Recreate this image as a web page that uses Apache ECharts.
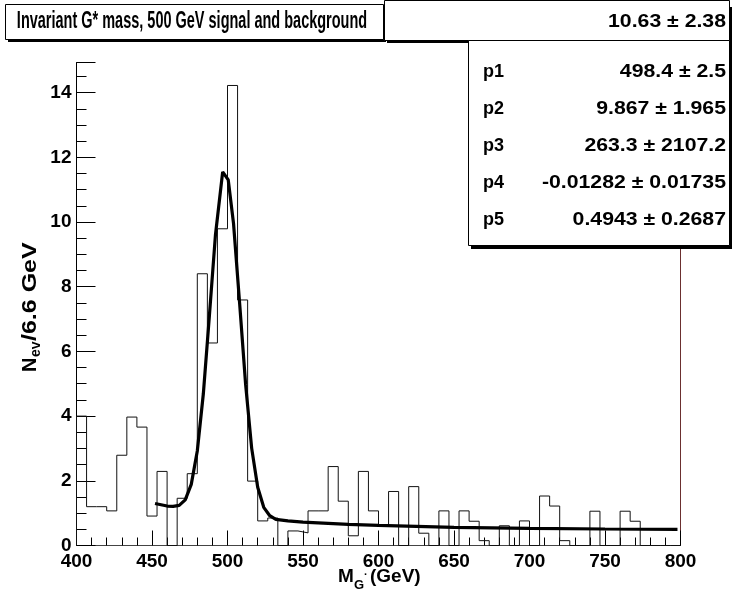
<!DOCTYPE html>
<html><head><meta charset="utf-8">
<script src="https://cdn.jsdelivr.net/npm/echarts@6/dist/echarts.min.js"></script>
<style>html,body{margin:0;padding:0;background:#fff}#c{width:732px;height:601px}</style>
</head><body><div id="c"></div>
<script>
// ---- data ----
const binLow = 400;
const binWidth = 400 / 60;
const counts = [
  4.0, 1.2, 1.2, 1.07, 2.79, 3.97, 3.66, 0.91, 2.29, 0,
  1.46, 2.22, 8.40, 6.26, 9.79, 14.22, 7.59, 1.99, 0.76, 0.85,
  0, 0.45, 0.39, 1.07, 1.07, 2.44, 1.37, 0.30, 2.29, 1.07,
  0.6, 1.67, 0, 1.82, 0.38, 0, 1.07, 0, 1.07, 0.75,
  0.15, 0, 0.61, 0, 0.76, 0, 1.53, 1.22, 0.15, 0,
  0, 1.06, 0, 0, 1.06, 0.75, 0, 0, 0, 0
];
const fitX = [452, 456, 460, 464, 468, 472, 476, 480, 484, 488, 492, 496.8, 500.5, 504, 508, 512, 516, 520, 524, 528, 532, 540, 550, 560, 580, 600, 650, 700, 750, 798];
const fitY = [1.30, 1.26, 1.22, 1.21, 1.24, 1.41, 1.89, 2.92, 4.69, 7.10, 9.59, 11.55, 11.30, 9.95, 7.51, 4.98, 3.01, 1.80, 1.18, 0.92, 0.81, 0.76, 0.72, 0.70, 0.65, 0.62, 0.56, 0.53, 0.51, 0.50];
const xTickValues = [400, 450, 500, 550, 600, 650, 700, 750, 800];
const yTickValues = [0, 2, 4, 6, 8, 10, 12, 14];
const yMax = 14.93;
const titleText = 'Invariant G* mass, 500 GeV signal and background';
const statLabels = ['', 'p1', 'p2', 'p3', 'p4', 'p5'];
const statValues = ['10.63 \u00b1 2.38', '498.4 \u00b1 2.5', '9.867 \u00b1 1.965', '263.3 \u00b1 2107.2', '-0.01282 \u00b1 0.01735', '0.4943 \u00b1 0.2687'];

// ---- build ----
const histData = [[binLow, 0]];
counts.forEach((v, i) => {
  const a = binLow + i * binWidth, b = binLow + (i + 1) * binWidth;
  histData.push([a, v], [b, v]);
});
histData.push([binLow + counts.length * binWidth, 0]);
const fitData = fitX.map((x, i) => [x, fitY[i]]);

const FONT = 'Liberation Sans, Arial, Helvetica, sans-serif';
const chart = echarts.init(document.getElementById('c'), null, {renderer: 'canvas'});

const graphics = [];
// title box with shadow
graphics.push({type: 'rect', shape: {x: 8, y: 7, width: 378, height: 35}, style: {fill: '#000'}, z: 100});
graphics.push({type: 'rect', shape: {x: 5.5, y: 4.5, width: 378, height: 35}, style: {fill: '#fff', stroke: '#000', lineWidth: 1}, z: 101});
graphics.push({type: 'text', x: 192, y: 22, scaleX: 0.63, z: 102,
  style: {text: titleText, font: 'bold 23px ' + FONT, fill: '#000', align: 'center', verticalAlign: 'middle'}});
// stats: top row box
graphics.push({type: 'rect', shape: {x: 387, y: 7, width: 345, height: 36}, style: {fill: '#000'}, z: 100});
graphics.push({type: 'rect', shape: {x: 384.5, y: 0.5, width: 345, height: 40}, style: {fill: '#fff', stroke: '#000', lineWidth: 1}, z: 101});
// stats main box
graphics.push({type: 'rect', shape: {x: 471, y: 43, width: 261, height: 206}, style: {fill: '#000'}, z: 100});
graphics.push({type: 'rect', shape: {x: 468.5, y: 40.5, width: 261, height: 205}, style: {fill: '#fff', stroke: '#000', lineWidth: 1}, z: 101});
const rowY = [22, 72, 109, 146, 183, 220];
statValues.forEach((s, i) => {
  if (statLabels[i]) graphics.push({type: 'text', x: 483, y: rowY[i], z: 103,
    style: {text: statLabels[i], font: 'bold 18px ' + FONT, fill: '#000', align: 'left', verticalAlign: 'middle'}});
  graphics.push({type: 'text', x: 726, y: rowY[i], scaleX: 1.18, z: 103,
    style: {text: s, font: 'bold 18px ' + FONT, fill: '#000', align: 'right', verticalAlign: 'middle'}});
});
// y-axis title (rotated)
graphics.push({type: 'group', x: 30, y: 372, rotation: Math.PI / 2, z: 50, children: [
  {type: 'text', x: 0, y: 0, style: {text: 'N', font: 'bold 20px ' + FONT, fill: '#000', align: 'left', verticalAlign: 'middle'}},
  {type: 'text', x: 15, y: 6, style: {text: 'ev', font: 'bold 14px ' + FONT, fill: '#000', align: 'left', verticalAlign: 'middle'}},
  {type: 'text', x: 31, y: 0, scaleX: 1.25, style: {text: '/6.6 GeV', font: 'bold 20px ' + FONT, fill: '#000', align: 'left', verticalAlign: 'middle'}}
]});
// x-axis title
graphics.push({type: 'group', x: 338, y: 577, z: 50, children: [
  {type: 'text', x: 0, y: 0, style: {text: 'M', font: 'bold 19px ' + FONT, fill: '#000', align: 'left', verticalAlign: 'middle'}},
  {type: 'text', x: 16, y: 8, style: {text: 'G', font: 'bold 13px ' + FONT, fill: '#000', align: 'left', verticalAlign: 'middle'}},
  {type: 'text', x: 26, y: -2, style: {text: '\u00b7', font: 'bold 11px ' + FONT, fill: '#000', align: 'left', verticalAlign: 'middle'}},
  {type: 'text', x: 32, y: 0, style: {text: '(GeV)', font: 'bold 19px ' + FONT, fill: '#000', align: 'left', verticalAlign: 'middle'}}
]});

const option = {
  animation: false,
  backgroundColor: '#fff',
  grid: {left: 76.5, top: 62.5, right: 51.5, bottom: 55.5, containLabel: false},
  xAxis: [{
    type: 'value', min: 400, max: 800, interval: 50,
    axisLine: {show: true, lineStyle: {color: '#000', width: 1}},
    axisTick: {show: true, inside: true, length: 15, lineStyle: {color: '#000'}},
    minorTick: {show: true, splitNumber: 5, length: 8, lineStyle: {color: '#000'}},
    axisLabel: {color: '#000', fontFamily: FONT, fontWeight: 'bold', fontSize: 19, margin: 7,
      formatter: v => xTickValues.includes(v) ? String(v) : ''},
    splitLine: {show: false}
  }, {
    type: 'value', position: 'top', min: 400, max: 800,
    axisLine: {show: true, lineStyle: {color: '#444', width: 1}},
    axisTick: {show: false}, axisLabel: {show: false}, splitLine: {show: false}
  }],
  yAxis: [{
    type: 'value', min: 0, max: yMax, interval: 2,
    axisLine: {show: true, lineStyle: {color: '#000', width: 1}},
    axisTick: {show: true, inside: true, length: 19, lineStyle: {color: '#000'}},
    minorTick: {show: true, splitNumber: 4, length: 10, lineStyle: {color: '#000'}},
    axisLabel: {color: '#000', fontFamily: FONT, fontWeight: 'bold', fontSize: 19, margin: 5, showMaxLabel: false,
      formatter: v => yTickValues.includes(v) ? String(v) : ''},
    splitLine: {show: false}
  }, {
    type: 'value', position: 'right', min: 0, max: yMax,
    axisLine: {show: true, lineStyle: {color: '#6b2f2f', width: 1}},
    axisTick: {show: false}, axisLabel: {show: false}, splitLine: {show: false}
  }],
  series: [{
    type: 'line', data: histData, xAxisIndex: 0, yAxisIndex: 0,
    symbol: 'none', lineStyle: {color: '#111', width: 1}, z: 2
  }, {
    type: 'line', data: fitData, xAxisIndex: 0, yAxisIndex: 0,
    symbol: 'none', smooth: false, lineStyle: {color: '#000', width: 3.2}, z: 3
  }],
  graphic: graphics
};
chart.setOption(option);
</script>
</body></html>
